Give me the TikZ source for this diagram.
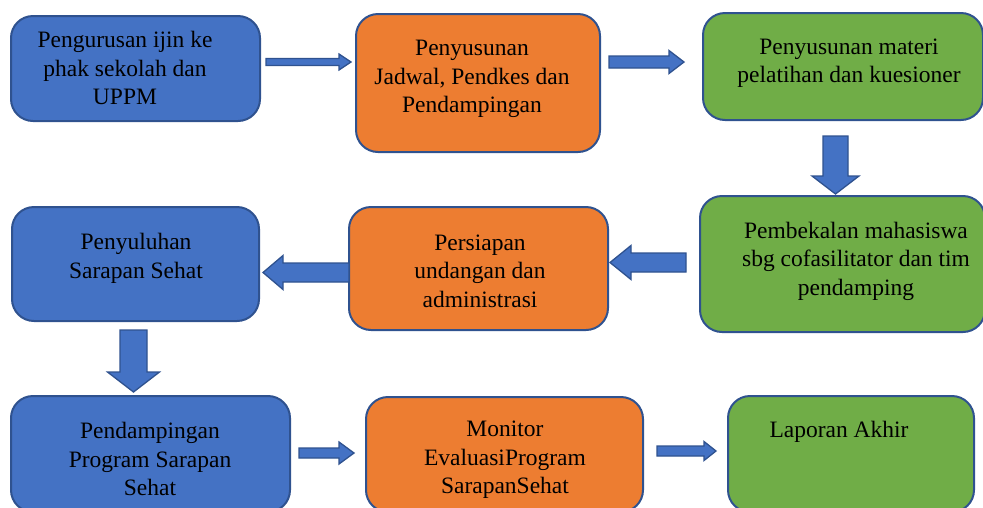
\documentclass[tikz,border=0pt]{standalone}
\usepackage{fontspec}
\setmainfont{Liberation Serif}
\usetikzlibrary{calc}
\definecolor{boxblue}{HTML}{4472C4}
\definecolor{boxorange}{HTML}{ED7D31}
\definecolor{boxgreen}{HTML}{70AD47}
\definecolor{edge}{HTML}{2F528F}
\begin{document}
\begin{tikzpicture}[x=1pt,y=1pt,
	box/.style n args={3}{draw=edge,line width=2pt,fill=#1,rounded corners=22pt,minimum width=#2,minimum height=#3},
	txt/.style={align=center,font=\fontsize{23.5}{28.5}\selectfont},
	fat/.style n args={3}{draw=edge,fill=boxblue,line width=1.3pt,line join=miter,
		to path={-- ($(\tikztostart)!#1!90:(\tikztotarget)$)
			-- ($(\tikztotarget)!#3!(\tikztostart)!#1!90:(\tikztotarget)$)
			-- ($(\tikztotarget)!#3!(\tikztostart)!#2!90:(\tikztotarget)$)
			-- (\tikztotarget)
			-- ($(\tikztotarget)!#3!(\tikztostart)!#2!-90:(\tikztotarget)$)
			-- ($(\tikztotarget)!#3!(\tikztostart)!#1!-90:(\tikztotarget)$)
			-- ($(\tikztostart)!#1!-90:(\tikztotarget)$) -- cycle}}]
	\useasboundingbox (0,0) rectangle (983,-507);
	% boxes
	\node[box={boxblue}{249pt}{105pt}] (b1) at (135.5,-68.5) {};
	\node[box={boxorange}{244pt}{138pt}] (b2) at (478,-83) {};
	\node[box={boxgreen}{280pt}{107pt}] (b3) at (843,-66.5) {};
	\node[box={boxblue}{247pt}{114pt}] (b4) at (135.5,-264) {};
	\node[box={boxorange}{259pt}{123pt}] (b5) at (478.5,-268.5) {};
	\node[box={boxgreen}{285pt}{136pt}] (b6) at (842.5,-264) {};
	\node[box={boxblue}{279pt}{116pt}] (b7) at (150.5,-454) {};
	\node[box={boxorange}{277pt}{115pt}] (b8) at (504.5,-454.5) {};
	\node[box={boxgreen}{246pt}{116pt}] (b9) at (851,-454) {};
	% texts
	\node[txt] (t1) at (125,-68) {Pengurusan ijin ke\\phak sekolah dan\\UPPM};
	\node[txt] (t2) at (472,-79) {Penyusunan\\Jadwal, Pendkes dan\\Pendampingan};
	\node[txt] (t3) at (849,-63) {Penyusunan materi\\pelatihan dan kuesioner};
	\node[txt] (t4) at (136,-258.5) {Penyuluhan\\Sarapan Sehat};
	\node[txt] (t5) at (480,-271) {Persiapan\\undangan dan\\administrasi};
	\node[txt] (t6) at (856,-261) {Pembekalan mahasiswa\\sbg cofasilitator dan tim\\pendamping};
	\node[txt] (t7) at (150,-459) {Pendampingan\\Program Sarapan\\Sehat};
	\node[txt] (t8) at (505,-460) {Monitor\\EvaluasiProgram\\SarapanSehat};
	\node[txt] (t9) at (839,-432) {Laporan Akhir};
	% arrows
	\draw[fat={3.5pt}{8pt}{12pt}] ([shift={(5,6.5)}]b1.east) to ([shift={(-4,21)}]b2.west);
	\draw[fat={6pt}{11.5pt}{15pt}] ([shift={(8,21)}]b2.east) to ([shift={(-18,4.5)}]b3.west);
	\draw[fat={12.5pt}{23.5pt}{18pt}] ([shift={(-7.5,-15)}]b3.south) to ([shift={(-7,1)}]b6.north);
	\draw[fat={9.5pt}{17pt}{21pt}] ([shift={(-13,1.5)}]b6.west) to ([shift={(1,6)}]b5.east);
	\draw[fat={9.5pt}{17pt}{20pt}] ([shift={(1,-4)}]b5.west) to ([shift={(3,-8.5)}]b4.east);
	\draw[fat={13.5pt}{26pt}{20pt}] ([shift={(-2,-8)}]b4.south) to ([shift={(-17,3)}]b7.north);
	\draw[fat={5pt}{11pt}{15pt}] ([shift={(8,1)}]b7.east) to ([shift={(-11,1.5)}]b8.west);
	\draw[fat={5pt}{9.5pt}{12pt}] ([shift={(13,3.5)}]b8.east) to ([shift={(-11,3)}]b9.west);
\end{tikzpicture}
\end{document}
